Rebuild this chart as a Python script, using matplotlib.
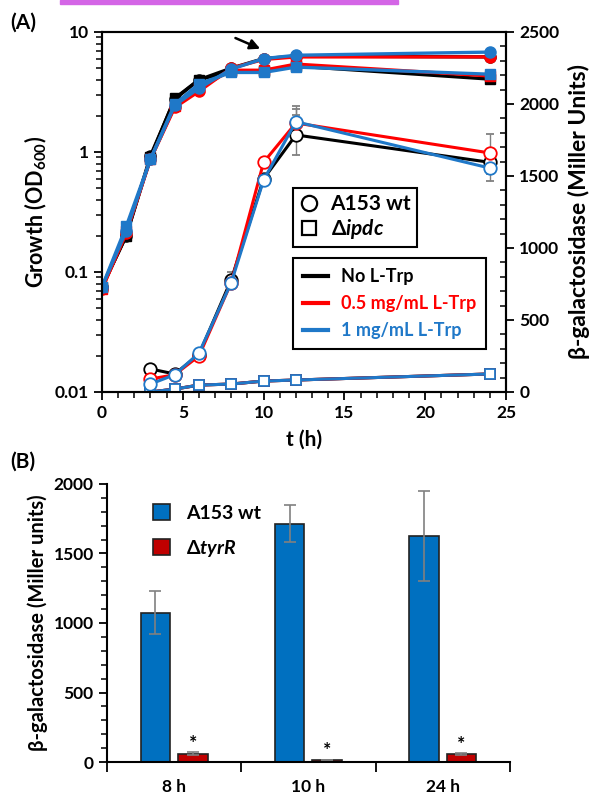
import matplotlib

matplotlib.use("Agg")
import matplotlib.pyplot as plt
from matplotlib.lines import Line2D
from matplotlib.patches import Rectangle
from matplotlib.ticker import MultipleLocator, LogLocator, NullFormatter, FixedLocator
import numpy as np

plt.rcParams["font.family"] = ["Lato", "DejaVu Sans"]
plt.rcParams["font.weight"] = "bold"
plt.rcParams["mathtext.fontset"] = "custom"
plt.rcParams["mathtext.rm"] = "Lato:bold"
plt.rcParams["mathtext.it"] = "Lato:bold:italic"
plt.rcParams["mathtext.bf"] = "Lato:bold"
plt.rcParams["mathtext.default"] = "rm"

BLACK = "#000000"
RED = "#ff0000"
BLUE = "#1f78c8"
TICK_FS = 12.5

# --- panel A: growth (left axis, log) ---
t_growth = [0, 1.5, 3, 4.5, 6, 8, 10, 12, 24]
od_wt_none = [0.075, 0.20, 0.93, 2.75, 4.0, 5.0, 6.0, 6.3, 6.2]
od_ipdc_none = [0.075, 0.20, 0.90, 2.8, 4.0, 4.7, 4.7, 5.2, 4.05]
od_wt_05 = [0.072, 0.21, 0.87, 2.35, 3.2, 5.0, 5.9, 6.2, 6.2]
od_ipdc_05 = [0.072, 0.22, 0.87, 2.4, 3.4, 4.8, 4.8, 5.4, 4.3]
od_wt_1 = [0.075, 0.22, 0.87, 2.45, 3.4, 4.9, 6.0, 6.4, 6.8]
od_ipdc_1 = [0.075, 0.24, 0.87, 2.5, 3.7, 4.6, 4.6, 5.1, 4.45]

# --- panel A: beta-galactosidase (right axis) ---
t_bgal = [3, 4.5, 6, 8, 10, 12, 24]
bg_wt_none = [160, 125, 260, 780, 1480, 1785, 1595]
bg_wt_none_err = [0, 0, 0, 50, 0, 140, 80]
bg_wt_05 = [90, 120, 250, 760, 1595, 1868, 1660]
bg_wt_05_err = [0, 0, 0, 30, 0, 100, 135]
bg_wt_1 = [55, 120, 270, 760, 1472, 1877, 1555]
bg_wt_1_err = [0, 0, 0, 30, 0, 110, 90]
bg_ipdc_none = [0, 20, 48, 55, 76, 83, 125]
bg_ipdc_05 = [0, 20, 48, 55, 76, 83, 125]
bg_ipdc_1 = [0, 20, 48, 55, 76, 83, 125]

# --- panel B: bars ---
sample_times = ["8 h", "10 h", "24 h"]
bar_wt = [1075, 1715, 1625]
bar_wt_err = [155, 135, 325]
bar_tyrr = [60, 15, 55]
bar_tyrr_err = [10, 3, 8]

fig = plt.figure(figsize=(5.95, 7.98), dpi=100)
fig.patches.append(Rectangle((60 / 595, 1 - 4 / 798), 338 / 595, 4 / 798,
                             transform=fig.transFigure, color="#d466e6", zorder=5))

ax = fig.add_axes([0.1714, 0.5088, 0.679, 0.4511])
ax2 = ax.twinx()

series = [
    (BLACK, od_wt_none, od_ipdc_none, bg_wt_none, bg_wt_none_err, bg_ipdc_none),
    (RED, od_wt_05, od_ipdc_05, bg_wt_05, bg_wt_05_err, bg_ipdc_05),
    (BLUE, od_wt_1, od_ipdc_1, bg_wt_1, bg_wt_1_err, bg_ipdc_1),
]
for color, od_wt, od_ipdc, bg_wt, bg_err, bg_ipdc in series:
    ax.plot(t_growth, od_ipdc, color=color, lw=2.4, marker="s", ms=7, mfc=color, mec=color)
    ax.plot(t_growth, od_wt, color=color, lw=2.4, marker="o", ms=8, mfc=color, mec=color)
    ax2.errorbar(t_bgal, bg_wt, yerr=bg_err, color=color, lw=2.2, marker="o", ms=9,
                 mfc="white", mec=color, mew=1.3, ecolor="#808080", elinewidth=1, capsize=3)
    ax2.plot(t_bgal, bg_ipdc, color=color, lw=2.2, marker="s", ms=7.5,
             mfc="white", mec=color, mew=1.3)

ax.set_yscale("log")
ax.set_ylim(0.01, 10)
ax.set_xlim(0, 25)
ax.set_yticks([0.01, 0.1, 1, 10])
ax.set_yticklabels(["0.01", "0.1", "1", "10"])
ax.yaxis.set_minor_locator(LogLocator(base=10, subs=np.arange(2, 10)))
ax.yaxis.set_minor_formatter(NullFormatter())
ax.xaxis.set_major_locator(MultipleLocator(5))
ax.xaxis.set_minor_locator(MultipleLocator(1))
ax.tick_params(axis="both", which="major", labelsize=TICK_FS, width=1.3, length=6, direction="out")
ax.tick_params(axis="both", which="minor", width=1.1, length=4, direction="out")
ax.tick_params(axis="x", which="both", top=False)
ax.set_ylabel("Growth (OD$_{600}$)", fontsize=15.5, fontweight="bold", labelpad=4)
ax.set_xlabel("t (h)", fontsize=15, fontweight="bold", labelpad=6)

ax2.set_ylim(0, 2500)
ax2.yaxis.set_major_locator(MultipleLocator(500))
ax2.yaxis.set_minor_locator(MultipleLocator(100))
ax2.tick_params(axis="y", which="major", labelsize=TICK_FS, width=1.3, length=6, direction="out")
ax2.tick_params(axis="y", which="minor", width=1.1, length=4, direction="in")
ax2.set_ylabel("β-galactosidase (Miller Units)", fontsize=16.5, fontweight="bold", labelpad=6)
for a in (ax, ax2):
    for s in a.spines.values():
        s.set_linewidth(1.5)

# arrow pointing at the 10 h growth point
ax.annotate("", xy=(9.95, 7.1), xytext=(8.1, 9.1), xycoords="data",
            arrowprops=dict(arrowstyle="-|>,head_length=0.6,head_width=0.3", color="black", lw=1.8))

strain_handles = [
    Line2D([], [], ls="none", marker="o", ms=11, mfc="white", mec="black", mew=1.6),
    Line2D([], [], ls="none", marker="s", ms=10, mfc="white", mec="black", mew=1.6),
]
leg1 = ax2.legend(strain_handles, ["A153 wt", "Δ$\\it{ipdc}$"], loc="upper left",
                  bbox_to_anchor=(0.473, 0.567), borderaxespad=0, fancybox=False,
                  edgecolor="black", framealpha=1, prop={"size": 15, "weight": "bold"},
                  handlelength=0.9, handletextpad=0.6, borderpad=0.3, labelspacing=0.15)
leg1.get_frame().set_linewidth(1.5)
ax2.add_artist(leg1)

trp_labels = ["No L-Trp", "0.5 mg/mL L-Trp", "1 mg/mL L-Trp"]
trp_colors = [BLACK, RED, BLUE]
trp_handles = [Line2D([], [], color=c, lw=3) for c in trp_colors]
leg2 = ax2.legend(trp_handles, trp_labels, loc="upper left", bbox_to_anchor=(0.473, 0.372),
                  borderaxespad=0, fancybox=False, edgecolor="black", framealpha=1,
                  prop={"size": 13, "weight": "bold"}, handlelength=1.4, handletextpad=0.7,
                  borderpad=0.55, labelspacing=0.55)
leg2.get_frame().set_linewidth(1.5)
for txt, c in zip(leg2.get_texts(), trp_colors):
    txt.set_color(c)

fig.text(0.017, 0.972, "(A)", fontsize=15, fontweight="bold", ha="left", va="center")
fig.text(0.017, 0.422, "(B)", fontsize=15, fontweight="bold", ha="left", va="center")

# --- panel B ---
bx = fig.add_axes([0.1798, 0.0451, 0.677, 0.3484])
x = np.arange(len(sample_times))
w = 0.22
bx.bar(x - 0.14, bar_wt, w, color="#0070c0", edgecolor="#222222", lw=1.2,
       yerr=bar_wt_err, ecolor="#808080", error_kw=dict(elinewidth=1.2, capsize=4, capthick=1.2),
       label="A153 wt")
bx.bar(x + 0.14, bar_tyrr, w, color="#c00000", edgecolor="#222222", lw=1.2,
       yerr=bar_tyrr_err, ecolor="#808080", error_kw=dict(elinewidth=1.2, capsize=4, capthick=1.2),
       label="Δ$\\it{tyrR}$")
for xi, v, e in zip(x, bar_tyrr, bar_tyrr_err):
    bx.text(xi + 0.14, v + e + 5, "*", ha="center", va="bottom", fontsize=14, fontweight="bold")

bx.set_xlim(-0.5, 2.5)
bx.set_ylim(0, 2000)
bx.yaxis.set_major_locator(MultipleLocator(500))
bx.yaxis.set_minor_locator(MultipleLocator(100))
bx.xaxis.set_major_locator(FixedLocator([-0.5, 0.5, 1.5, 2.5]))
bx.xaxis.set_major_formatter(NullFormatter())
bx.set_xticks(x, sample_times, minor=True)
bx.tick_params(axis="x", which="major", length=7, width=1.3, direction="out")
bx.tick_params(axis="x", which="minor", length=0, labelsize=TICK_FS, pad=12)
bx.tick_params(axis="y", which="major", labelsize=TICK_FS, width=1.3, length=6, direction="out")
bx.tick_params(axis="y", which="minor", width=1.1, length=4, direction="out")
for s in ("top", "right"):
    bx.spines[s].set_visible(False)
for s in ("left", "bottom"):
    bx.spines[s].set_linewidth(1.5)
bx.set_ylabel("β-galactosidase (Miller units)", fontsize=14.5, fontweight="bold", labelpad=4)
bx.legend(loc="upper left", bbox_to_anchor=(0.07, 0.99), frameon=False,
          prop={"size": 14, "weight": "bold"}, handlelength=0.9, handleheight=0.9,
          handletextpad=0.8, labelspacing=0.8)

fig.savefig("out.png", dpi=100)
